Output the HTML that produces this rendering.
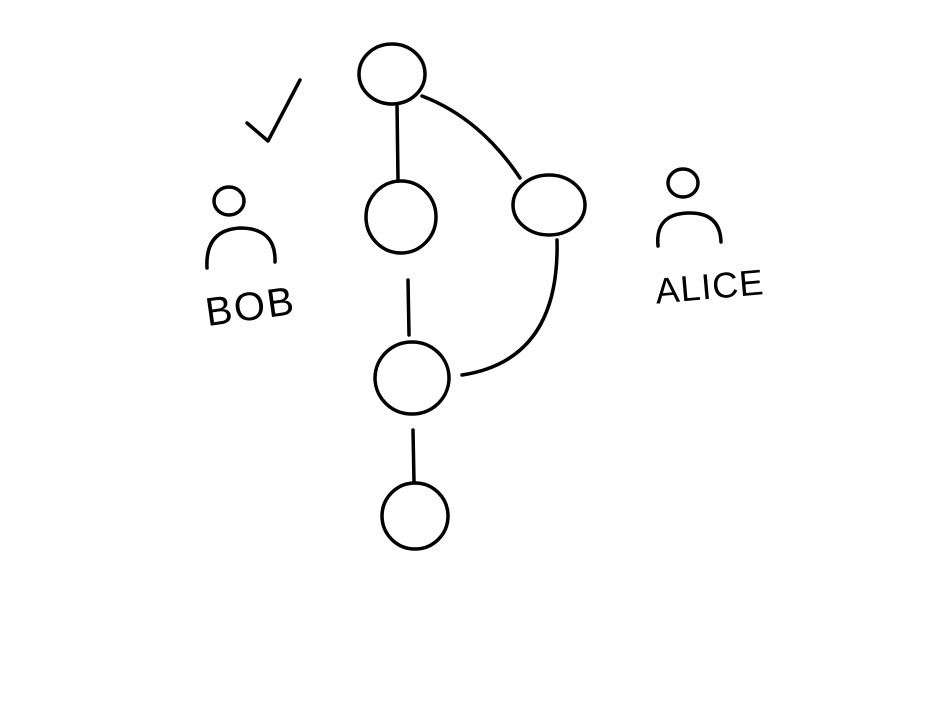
<!DOCTYPE html>
<html>
<head>
<meta charset="utf-8">
<style>
html,body{margin:0;padding:0;background:#fff;}
svg{display:block;}
text{font-family:"Liberation Sans",sans-serif;fill:#000;}
</style>
</head>
<body>
<svg width="936" height="702" viewBox="0 0 936 702" xmlns="http://www.w3.org/2000/svg">
<g fill="none" stroke="#000" stroke-width="3.5" stroke-linecap="round" stroke-linejoin="round">
  <ellipse cx="392" cy="74" rx="33" ry="30"/>
  <ellipse cx="401" cy="217" rx="35" ry="36"/>
  <ellipse cx="549" cy="205" rx="36" ry="30"/>
  <ellipse cx="412" cy="378" rx="37" ry="36"/>
  <ellipse cx="415" cy="516" rx="33" ry="33"/>
  <path d="M397 104 L398 180"/>
  <path d="M422 96 Q480 118 520 178"/>
  <path d="M408 280 L409 335"/>
  <path d="M557 240 Q560 360 462 375"/>
  <path d="M413 430 L414 482"/>
  <path d="M247 123 L268 141 L300 80"/>
  <ellipse cx="229" cy="201" rx="15" ry="14"/>
  <path d="M207 268 Q205 230 240 228 Q276 228 275 262"/>
  <ellipse cx="683" cy="183" rx="15" ry="14"/>
  <path d="M658 246 Q655 214 688 213 Q720 212 721 242"/>
</g>
<text x="205" y="320" font-size="40" transform="rotate(-8 250 305)" letter-spacing="2">BOB</text>
<text x="655" y="299" font-size="36" transform="rotate(-5 708 285)" letter-spacing="1">ALICE</text>
</svg>
</body>
</html>
